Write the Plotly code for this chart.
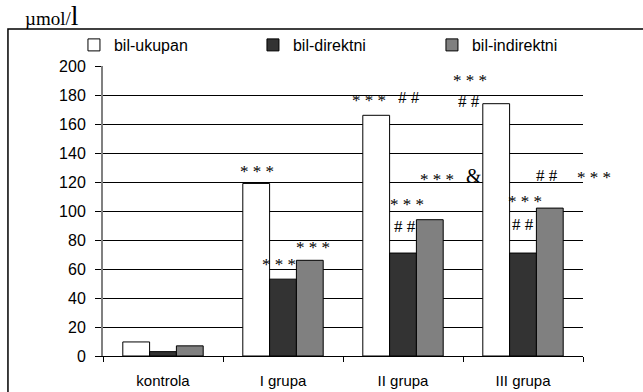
import plotly.graph_objects as go

# Serum bilirubin by group (µmol/l)
groups = ["kontrola", "I grupa", "II grupa", "III grupa"]
series_names = ["bil-ukupan", "bil-direktni", "bil-indirektni"]
bil_ukupan = [9.7, 119, 166, 174]
bil_direktni = [3, 53, 71, 71]
bil_indirektni = [7, 66, 94, 102]
y_ticks = [0, 20, 40, 60, 80, 100, 120, 140, 160, 180, 200]

# significance marks: (x position in category units, y value, text, font size)
marks = [
    (0.78, 127, "* * *", 17),
    (0.97, 63, "* * *", 17),
    (1.25, 75, "* * *", 17),
    (1.72, 176, "* * *", 17),
    (2.05, 178.5, "# #", 17),
    (2.03, 104.5, "* * *", 17),
    (2.02, 89.5, "# #", 17),
    (2.28, 121.5, "* * *", 17),
    (2.59, 124, "&", 20),
    (2.56, 190, "* * *", 17),
    (2.55, 175.5, "# #", 17),
    (3.02, 106.5, "* * *", 17),
    (3.0, 91, "# #", 17),
    (3.2, 124.5, "# #", 17),
    (3.59, 123, "* * *", 17),
]

colors = ["#ffffff", "#333333", "#808080"]
values = [bil_ukupan, bil_direktni, bil_indirektni]
x_range = [-0.5, len(groups) - 0.5]

fig = go.Figure()
for name, vals, col in zip(series_names, values, colors):
    fig.add_trace(go.Bar(
        x=groups, y=vals, name=name,
        marker=dict(color=col, line=dict(color="#000000", width=1)),
    ))

for x, y, t, s in marks:
    if x_range[0] <= x <= x_range[1]:
        xr, xv = "x", x
    else:
        # beyond the last category: place in paper units along the same scale
        xr, xv = "paper", (x - x_range[0]) / (x_range[1] - x_range[0])
    fig.add_annotation(
        x=xv, y=y, xref=xr, yref="y", text=t, showarrow=False,
        font=dict(family="Liberation Serif", size=s, color="#000000"),
        xanchor="center", yanchor="middle",
    )

# unit label
fig.add_annotation(
    x=-0.167, y=1.128, xref="paper", yref="paper", showarrow=False,
    xanchor="left", yanchor="bottom", yshift=-4,
    text="<span style='font-size:19px'>µmol/</span><span style='font-size:28px'>l</span>",
    font=dict(family="Liberation Serif", size=19, color="#000000"),
)

# outer frame
fig.add_shape(type="rect", xref="paper", yref="paper",
              x0=-0.198, x1=1.3, y0=-0.3, y1=1.128,
              line=dict(color="#000000", width=1.5), fillcolor="rgba(0,0,0,0)")

fig.update_layout(
    width=643, height=392,
    margin=dict(l=103, r=60, t=66, b=36, autoexpand=False),
    paper_bgcolor="#ffffff", plot_bgcolor="#ffffff",
    barmode="group", bargap=0.33, bargroupgap=0,
    font=dict(family="Liberation Sans", size=13, color="#000000"),
    showlegend=True,
    legend=dict(orientation="h", x=-0.0605, y=1.0724, xanchor="left", yanchor="middle",
                font=dict(size=16), itemwidth=30, traceorder="normal",
                entrywidthmode="pixels", entrywidth=134,
                bgcolor="rgba(0,0,0,0)"),
)
fig.update_xaxes(
    type="category", range=x_range, tickson="boundaries", ticks="outside",
    ticklen=5, tickcolor="#000000", showline=True, linecolor="#000000",
    linewidth=1, showgrid=False, ticklabelstandoff=11, automargin=False,
    tickfont=dict(family="Liberation Sans", size=15, color="#000000"),
)
fig.update_yaxes(
    range=[0, 200], tickvals=y_ticks, ticks="outside", ticklen=6,
    tickcolor="#000000", showline=True, linecolor="#808080", linewidth=2,
    showgrid=True, gridcolor="#000000", gridwidth=1, zeroline=False,
    automargin=False, ticklabelstandoff=6,
    tickfont=dict(family="Liberation Sans", size=16, color="#000000"),
)

fig.write_html("out.html")
